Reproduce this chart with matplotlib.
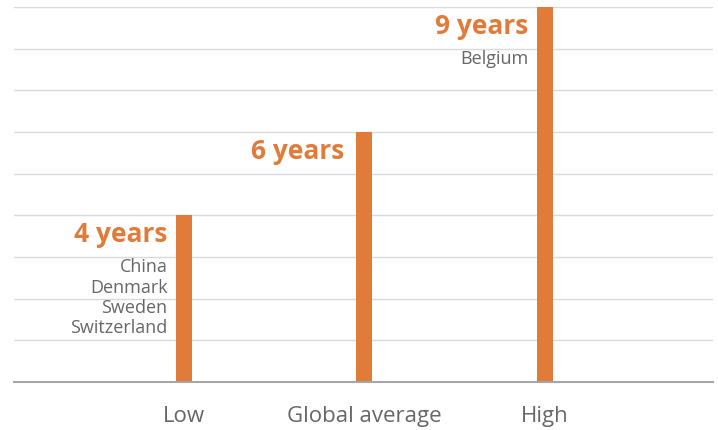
import matplotlib.pyplot as plt

# data
categories = ['Low', 'Global average', 'High']
years = [4, 6, 9]
value_labels = ['4 years', '6 years', '9 years']
countries = [['China', 'Denmark', 'Sweden', 'Switzerland'], [], ['Belgium']]

orange = '#E07B39'
grey_text = '#666666'

plt.rcParams['font.family'] = ['Open Sans', 'DejaVu Sans']

fig = plt.figure(figsize=(7.18, 4.30), dpi=100)
ax = fig.add_axes([14 / 718, 48 / 430, 699 / 718, 375 / 430])

x = list(range(len(categories)))
ax.bar(x, years, width=0.088, color=orange, zorder=3)

ax.set_xlim(-0.94, 2.93)
ax.set_ylim(0, 9)
ax.set_yticks(range(1, 10))
ax.yaxis.grid(True, color='#d9d9d9', linewidth=1.0, zorder=0)
ax.tick_params(axis='y', length=0, labelleft=False)
ax.set_xticks(x)
ax.set_xticklabels(categories, fontsize=16, color=grey_text)
ax.tick_params(axis='x', length=0, pad=17.5)
for s in ['left', 'right', 'top']:
    ax.spines[s].set_visible(False)
ax.spines['bottom'].set_color('#a6a6a6')
ax.spines['bottom'].set_linewidth(1.5)
ax.spines['bottom'].set_zorder(4)

# labels to the left of each bar
for i, (v, lab, cs) in enumerate(zip(years, value_labels, countries)):
    gap = -6 if i != 1 else -8.5
    ax.annotate(lab, (i - 0.044, v), xytext=(gap, -4), textcoords='offset points',
                ha='right', va='top', fontsize=19, fontweight='bold', color=orange)
    if cs:
        ax.annotate('\n'.join(cs), (i - 0.044, v), xytext=(-6, -31),
                    textcoords='offset points', ha='right', va='top',
                    fontsize=13, color=grey_text, linespacing=1.16)

fig.savefig('out.png', dpi=100)
